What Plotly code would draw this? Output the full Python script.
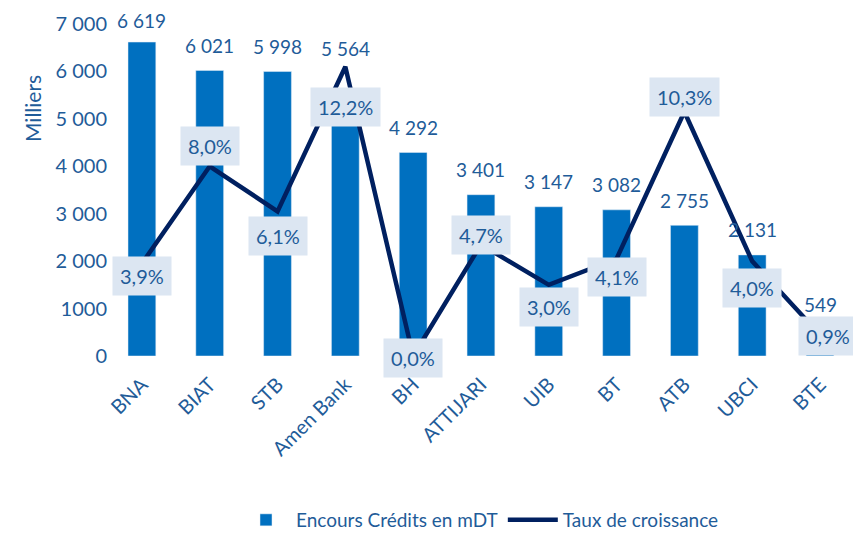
import plotly.graph_objects as go

banks = ["BNA", "BIAT", "STB", "Amen Bank", "BH", "ATTIJARI", "UIB", "BT", "ATB", "UBCI", "BTE"]
encours = [6619, 6021, 5998, 5564, 4292, 3401, 3147, 3082, 2755, 2131, 549]
encours_labels = ["6 619", "6 021", "5 998", "5 564", "4 292", "3 401", "3 147", "3 082", "2 755", "2 131", "549"]
croissance = [0.039, 0.080, 0.061, 0.122, 0.000, 0.047, 0.030, 0.041, 0.103, 0.040, 0.009]
croissance_labels = ["3,9%", "8,0%", "6,1%", "12,2%", "0,0%", "4,7%", "3,0%", "4,1%", "10,3%", "4,0%", "0,9%"]
y_ticks = [0, 1000, 2000, 3000, 4000, 5000, 6000, 7000]
y_ticktext = ["0", "1000", "2 000", "3 000", "4 000", "5 000", "6 000", "7 000"]

# label placement offsets in pixels (style, not data)
pct_yshift = [-12, 20, -25, -40, -2, 10, -22, -18, 15, -27, -1]
pct_xshift = [0, 0, 0, 0, 0, 0, 0, 0, 0, 0, 8]
bar_label_yshift = [22, 25, 25, 44, 25, 25, 25, 25, 25, 25, 25]

TXT = "#1F5C99"
FONT = "Lato"

# page body has an 8px margin: size the figure so the plot sits where the reference has it
W, H = 853, 526
L, R, T, B = 100, 3, 16, 178

fig = go.Figure()
fig.add_trace(go.Bar(
    x=banks, y=encours, name="Encours Crédits en mDT",
    marker_color="#0070C0", yaxis="y",
))
fig.add_trace(go.Scatter(
    x=banks, y=croissance, name="Taux de croissance", mode="lines",
    line=dict(color="#002060", width=4.5), yaxis="y2",
))

annotations = []
for i, (b, v, t) in enumerate(zip(banks, encours, encours_labels)):
    annotations.append(dict(
        x=b, y=v, xref="x", yref="y", text=t, showarrow=False,
        yanchor="middle", yshift=bar_label_yshift[i],
        font=dict(family=FONT, size=19, color=TXT),
    ))
for i, (b, v, t) in enumerate(zip(banks, croissance, croissance_labels)):
    annotations.append(dict(
        x=b, y=v, xref="x", yref="y2", text=t, showarrow=False,
        yanchor="middle", yshift=pct_yshift[i], xshift=pct_xshift[i],
        bgcolor="#DCE6F2", borderpad=7,
        font=dict(family=FONT, size=20, color=TXT),
    ))
annotations.append(dict(
    x=(10 - L) / (W - L - R), y=(H - B - 65) / (H - T - B),
    xref="paper", yref="paper", text="Milliers", showarrow=False,
    textangle=-90, font=dict(family=FONT, size=21, color=TXT),
))

fig.update_layout(
    width=W, height=H,
    margin=dict(l=L, r=R, t=T, b=B),
    plot_bgcolor="white", paper_bgcolor="white",
    bargap=0.59,
    showlegend=True,
    legend=dict(orientation="h", x=472 / W, xanchor="center", xref="container",
                y=1 - 512 / H, yanchor="middle", yref="container",
                font=dict(family=FONT, size=19, color=TXT), itemwidth=50),
    xaxis=dict(tickangle=-45, tickfont=dict(family=FONT, size=20, color=TXT),
               showgrid=False, showline=False, ticks="", ticklen=0,
               ticklabelstandoff=12),
    yaxis=dict(range=[0, 7000], tickvals=y_ticks, ticktext=y_ticktext,
               tickfont=dict(family=FONT, size=20, color=TXT),
               showgrid=False, zeroline=False, showline=False, ticks=""),
    yaxis2=dict(range=[0, 0.14], overlaying="y", side="right", visible=False,
                showgrid=False, zeroline=False),
    annotations=annotations,
)
fig.write_html("out.html")
